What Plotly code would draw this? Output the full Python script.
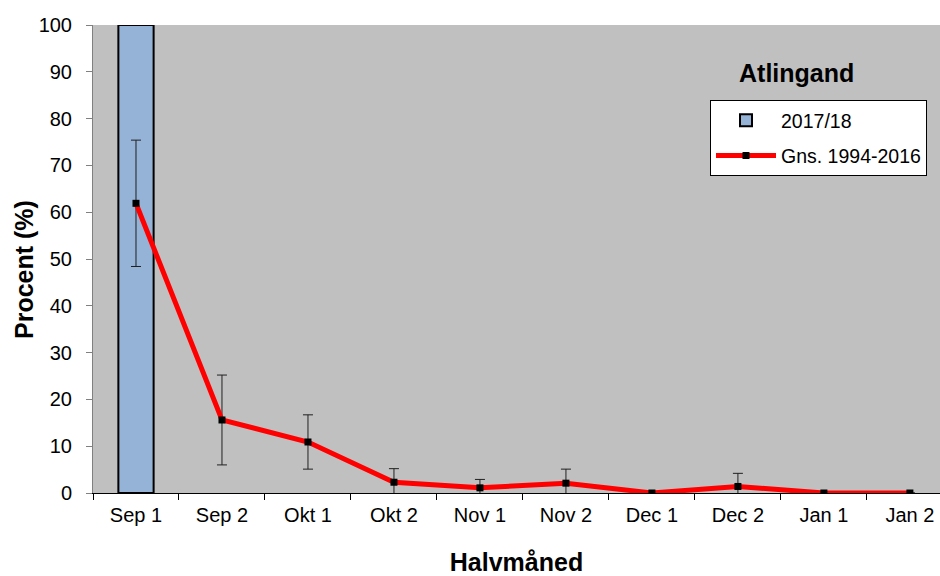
import plotly.graph_objects as go

categories = ["Sep 1", "Sep 2", "Okt 1", "Okt 2", "Nov 1", "Nov 2", "Dec 1", "Dec 2", "Jan 1", "Jan 2"]
season_2017 = [100, None, None, None, None, None, None, None, None, None]
avg_1994_2016 = [61.9, 15.6, 10.9, 2.3, 1.1, 2.1, 0, 1.4, 0, 0]
avg_err = [13.5, 9.6, 5.8, 2.9, 1.8, 3.0, 0, 2.8, 0, 0]
y_ticks = [0, 10, 20, 30, 40, 50, 60, 70, 80, 90, 100]

FONT = "Liberation Sans, Arial, sans-serif"

W, H = 940, 576
L, R, T, B = 93, 940, 25, 493
def px(xp):
    return (xp - L) / (R - L)
def py(yp):
    return (B - yp) / (B - T)

fig = go.Figure()
fig.add_trace(go.Bar(
    x=categories, y=season_2017, name="2017/18",
    marker=dict(color="#95B3D7", line=dict(color="black", width=2)),
    width=0.41, legendgroup="a",
))
fig.add_trace(go.Scatter(
    x=categories, y=avg_1994_2016, name="Gns. 1994-2016",
    mode="lines+markers",
    line=dict(color="#FF0000", width=5),
    marker=dict(symbol="square", color="black", size=7),
    error_y=dict(type="data", array=avg_err, visible=True, color="#202020", thickness=1, width=5),
    legendgroup="b",
))

fig.add_annotation(
    text="<b>Atlingand</b>", x=px(796), y=py(73), xref="paper", yref="paper",
    xanchor="center", yanchor="middle",
    showarrow=False, font=dict(family=FONT, size=25, color="black"),
)
fig.add_annotation(
    text="<b>Procent (%)</b>", x=px(24), y=py(270), xref="paper", yref="paper",
    xanchor="center", yanchor="middle", textangle=-90,
    showarrow=False, font=dict(family=FONT, size=25, color="black"),
)

fig.update_layout(
    width=W, height=H,
    margin=dict(l=L, r=W - R, t=T, b=H - B, pad=0, autoexpand=False),
    paper_bgcolor="white", plot_bgcolor="#C0C0C0",
    font=dict(family=FONT, size=20, color="black"),
    showlegend=True,
    legend=dict(
        x=px(710), y=py(100), xanchor="left", yanchor="top",
        bgcolor="white", bordercolor="black", borderwidth=1,
        font=dict(family=FONT, size=19.5, color="black"),
        itemwidth=60, tracegroupgap=7,
    ),
)
fig.update_xaxes(
    type="category", range=[-0.5, 9.35], automargin=False,
    showline=True, linecolor="black", linewidth=1,
    ticks="outside", tickson="boundaries", ticklen=6, tickcolor="black",
    showgrid=False,
    tickfont=dict(family=FONT, size=20),
    ticklabelstandoff=4, ticklabeloverflow="allow",
    title=dict(text="<b>Halvmåned</b>", font=dict(family=FONT, size=25), standoff=35),
)
fig.update_yaxes(
    range=[0, 100], tickvals=y_ticks, automargin=False,
    showline=True, linecolor="#808080", linewidth=1,
    ticks="outside", ticklen=6, tickcolor="#808080",
    showgrid=False, zeroline=False,
    tickfont=dict(family=FONT, size=20),
    ticklabelstandoff=10, ticklabeloverflow="allow",
)

fig.write_html(
    "out.html",
    config={"displayModeBar": False},
    post_script="document.body.style.margin='0';document.body.style.overflow='hidden';",
)
